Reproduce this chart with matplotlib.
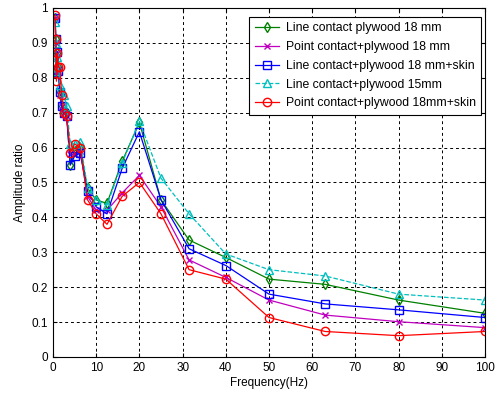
import numpy as np
import matplotlib
matplotlib.use("Agg")
import matplotlib.pyplot as plt

plt.rcParams['font.family'] = ['Liberation Sans', 'DejaVu Sans']

# 1/3-octave band frequencies (Hz)
freq = [0.5, 0.63, 0.8, 1, 1.25, 1.6, 2, 2.5, 3.15, 4, 5, 6.3, 8, 10,
        12.5, 16, 20, 25, 31.5, 40, 50, 63, 80, 100]

line_ply18 = [0.97, 0.91, 0.82, 0.87, 0.83, 0.76, 0.72, 0.70, 0.70, 0.55, 0.59, 0.60,
              0.483, 0.45, 0.44, 0.56, 0.672, 0.45, 0.335, 0.285, 0.223, 0.208, 0.163, 0.125]
point_ply18 = [0.97, 0.90, 0.81, 0.87, 0.82, 0.75, 0.72, 0.70, 0.69, 0.58, 0.58, 0.59,
               0.46, 0.42, 0.42, 0.47, 0.52, 0.43, 0.278, 0.228, 0.163, 0.12, 0.101, 0.084]
line_ply18_skin = [0.97, 0.91, 0.815, 0.875, 0.82, 0.76, 0.72, 0.70, 0.69, 0.55, 0.575, 0.585,
                   0.474, 0.43, 0.41, 0.54, 0.645, 0.45, 0.31, 0.262, 0.18, 0.152, 0.135, 0.113]
line_ply15 = [0.96, 0.90, 0.82, 0.86, 0.83, 0.78, 0.76, 0.75, 0.72, 0.61, 0.61, 0.615,
              0.485, 0.45, 0.435, 0.555, 0.675, 0.512, 0.41, 0.295, 0.25, 0.232, 0.18, 0.163]
point_ply18_skin = [0.98, 0.91, 0.79, 0.87, 0.83, 0.83, 0.75, 0.70, 0.69, 0.585, 0.61, 0.60,
                    0.45, 0.41, 0.38, 0.46, 0.50, 0.41, 0.25, 0.223, 0.113, 0.073, 0.061, 0.073]

labels = ["Line contact plywood 18 mm", "Point contact+plywood 18 mm",
          "Line contact+plywood 18 mm+skin", "Line contact+plywood 15mm",
          "Point contact+plywood 18mm+skin"]

fig = plt.figure(figsize=(5.0, 3.94), dpi=100)
ax = fig.add_axes([0.106, 0.094, 0.864, 0.886])

ms = 5
ax.plot(freq, line_ply18, color='green', marker='d', mfc='none', ms=ms, lw=0.9, label=labels[0])
ax.plot(freq, point_ply18, color='m', marker='x', ms=ms - 1, lw=0.9, label=labels[1])
ax.plot(freq, line_ply18_skin, color='b', marker='s', mfc='none', ms=ms + 1, lw=0.9, label=labels[2])
ax.plot(freq, line_ply15, color='c', marker='^', mfc='none', ms=ms + 1, lw=0.9, ls='--', label=labels[3])
ax.plot(freq, point_ply18_skin, color='r', marker='o', mfc='none', ms=ms + 1, lw=0.9, label=labels[4])

ax.set_xlim(0, 100)
ax.set_ylim(0, 1)
ax.set_xticks(np.arange(0, 101, 10))
ax.set_yticks(np.arange(0, 1.01, 0.1))
ax.set_yticklabels(["0", "0.1", "0.2", "0.3", "0.4", "0.5", "0.6", "0.7", "0.8", "0.9", "1"])
ax.tick_params(direction='in', labelsize=8.5, length=3, top=True, right=True)
ax.grid(True, color='black', linestyle=(0, (3, 3)), linewidth=0.7)
for s in ax.spines.values():
    s.set_linewidth(0.8)

ax.set_xlabel("Frequency(Hz)", fontsize=8.5, labelpad=2)
ax.set_ylabel("Amplitude ratio", fontsize=8.5, labelpad=4)

leg = ax.legend(loc='upper right', bbox_to_anchor=(0.962, 0.957),
                bbox_transform=fig.transFigure, fontsize=8.8, fancybox=False,
                framealpha=1, edgecolor='black', handlelength=2.0, borderaxespad=0,
                labelspacing=0.55, borderpad=0.45, handletextpad=0.5)
leg.get_frame().set_linewidth(0.8)

fig.savefig("out.png", dpi=100)
